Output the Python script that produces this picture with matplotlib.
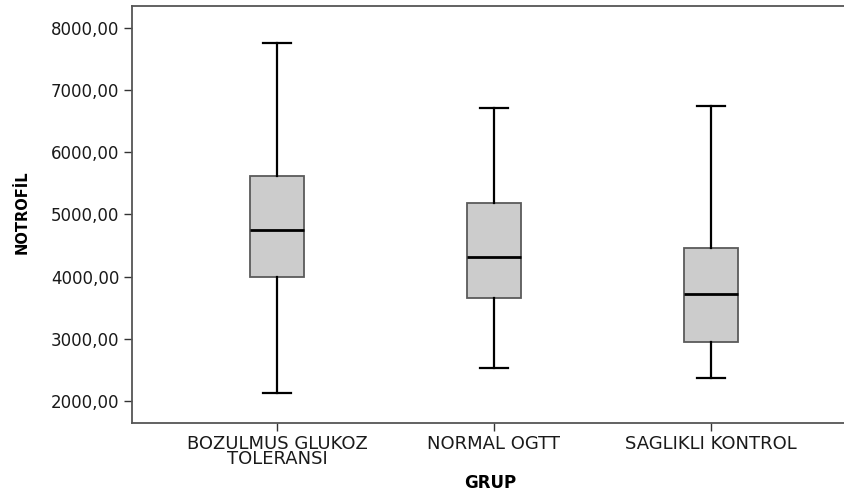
import matplotlib
matplotlib.use('Agg')
import matplotlib.pyplot as plt

# five-number summaries per group
groups = ['BOZULMUS GLUKOZ\nTOLERANSI', 'NORMAL OGTT', 'SAGLIKLI KONTROL']
whis_low = [2127, 2523, 2373]
q1 = [4002, 3659, 2941]
median = [4752, 4313, 3719]
q3 = [5625, 5182, 4463]
whis_high = [7759, 6714, 6751]
yticks = [2000, 3000, 4000, 5000, 6000, 7000, 8000]

plt.rcParams['font.family'] = ['DejaVu Sans']

fig = plt.figure(figsize=(8.45, 4.93), dpi=100)
ax = fig.add_axes([0.1562, 0.143, 0.8568, 0.845])

stats = []
for i in range(len(groups)):
    stats.append({'whislo': whis_low[i], 'q1': q1[i], 'med': median[i],
                  'q3': q3[i], 'whishi': whis_high[i], 'fliers': []})

ax.bxp(stats, positions=[1, 2, 3], widths=0.25, capwidths=0.125,
       patch_artist=True, showfliers=False,
       boxprops=dict(facecolor='#cccccc', edgecolor='#5a5a5a', linewidth=1.3),
       medianprops=dict(color='black', linewidth=2),
       whiskerprops=dict(color='black', linewidth=1.6),
       capprops=dict(color='black', linewidth=1.6))

ax.set_xlim(0.332, 3.668)
ax.set_ylim(1654, 8354)
ax.set_xticks([1, 2, 3])
ax.set_xticklabels(groups, fontsize=13, linespacing=0.75, color='#1a1a1a')
ax.set_yticks(yticks)
ax.set_yticklabels(['%d,00' % v for v in yticks], fontsize=12, color='#1a1a1a')
ax.tick_params(axis='both', direction='out', length=6, width=1, color='#333333')
ax.tick_params(axis='y', pad=3)
ax.tick_params(axis='x', pad=3)

for side in ['left', 'bottom', 'top']:
    ax.spines[side].set_color('#555555')
    ax.spines[side].set_linewidth(1.3)
ax.spines['right'].set_visible(False)

ax.set_xlabel('GRUP', fontsize=12, fontweight='bold')
ax.set_ylabel('NOTROFİL', fontsize=10.5, fontweight='semibold')
ax.xaxis.set_label_coords(0.495, -0.124)
ax.yaxis.set_label_coords(-0.142, 0.505)

plt.savefig('out.png', dpi=100)
